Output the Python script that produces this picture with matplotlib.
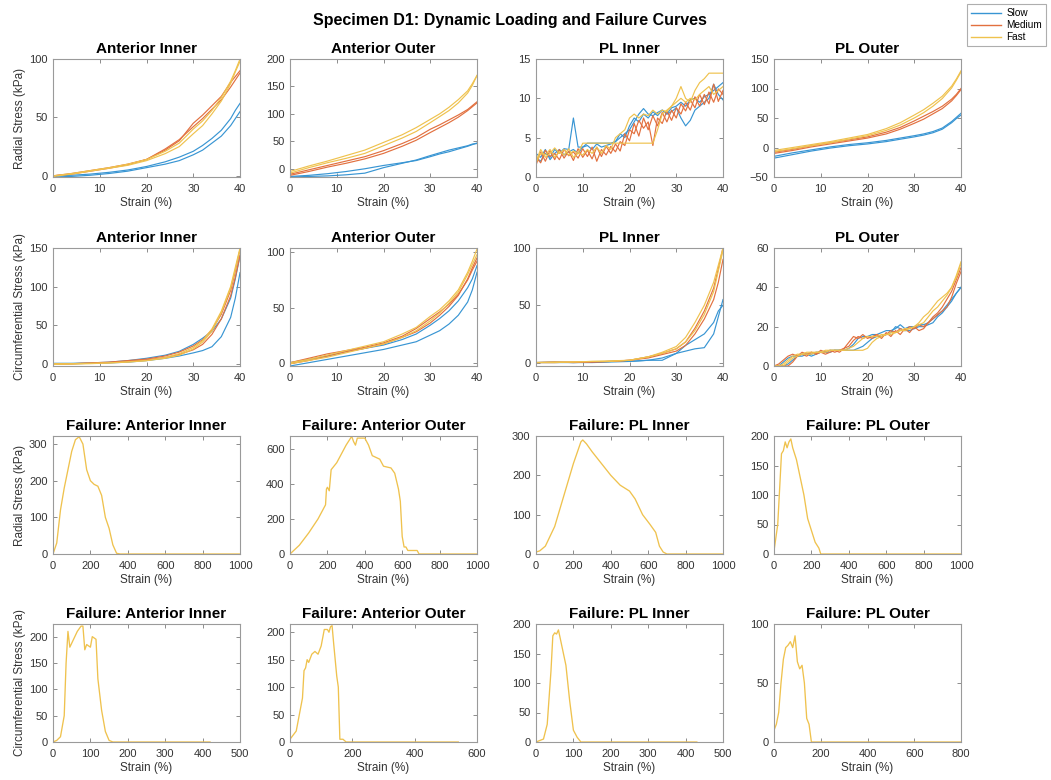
import matplotlib
matplotlib.use("Agg")
import matplotlib.pyplot as plt
from matplotlib.lines import Line2D

plt.rcParams['font.family'] = ['Liberation Sans', 'DejaVu Sans']

# strain grid shared by the smooth loading curves (%)
loading_strain = [0, 4, 8, 12, 16, 20, 24, 27, 30, 32, 34, 36, 38, 39, 40]
# strain grid for the noisy loading curves (%)
noisy_strain = list(range(41))

speeds = ["Slow", "Medium", "Fast"]
speed_colors = ["#3895D3", "#E2703F", "#EFC24E"]

# radial stress, anterior inner (two cycles per speed)
rad_ai_slow = [[0, 0.5, 1.5, 3, 5, 8, 12, 16, 21, 26, 32, 39, 49, 56, 62],
               [-1, -0.5, 0.5, 2, 4, 7, 10, 13, 18, 22, 28, 34, 43, 49, 55]]
rad_ai_med = [[0, 2, 4.5, 7, 10, 14, 22, 30, 45, 52, 60, 68, 80, 85, 90],
              [0, 1.5, 4, 6.5, 9.5, 14, 23, 31, 42, 49, 57, 65, 76, 82, 88]]
rad_ai_fast = [[0, 2, 4.5, 7, 10, 14, 21, 28, 40, 47, 56, 67, 81, 90, 100],
               [-0.5, 1.5, 4, 6.5, 9, 13, 19, 25, 36, 43, 53, 64, 79, 89, 98]]

# radial stress, anterior outer
rad_ao_slow = [[-14, -12, -9, -5, 0, 6, 11, 15, 22, 27, 31, 36, 41, 44, 47],
               [-15, -14, -13, -11, -8, 2, 10, 16, 24, 29, 34, 38, 42, 45, 46]]
rad_ao_med = [[-10, -2, 6, 14, 22, 33, 46, 57, 72, 80, 89, 98, 108, 115, 122],
              [-12, -5, 3, 10, 18, 28, 41, 52, 66, 75, 84, 94, 106, 113, 120]]
rad_ao_fast = [[-5, 5, 14, 24, 34, 48, 62, 75, 90, 100, 112, 126, 142, 155, 170],
               [-8, 2, 11, 19, 28, 42, 56, 68, 84, 95, 106, 120, 138, 152, 170]]

# radial stress, PL inner (noisy, one value per % strain)
rad_pi_slow = [[2.5, 2.0, 3.0, 2.5, 3.5, 3.0, 3.6, 3.5, 7.5, 3.8, 3.8, 4.3, 4.3, 4.3, 4.3, 4.3, 4.3,
                4.5, 5.0, 5.5, 6.0, 7.0, 8.0, 8.7, 8.0, 7.8, 8.2, 8.5, 8.0, 8.3, 8.8, 7.5, 6.5, 7.2,
                8.5, 9.0, 9.5, 10.0, 11.8, 10.5, 9.8],
               [3.0, 2.5, 3.5, 2.2, 3.0, 3.5, 2.8, 3.2, 3.5, 3.0, 3.8, 4.0, 3.5, 4.2, 3.8, 4.0, 4.2,
                4.5, 5.5, 5.0, 6.5, 7.5, 7.0, 8.0, 7.5, 8.3, 7.8, 8.5, 8.0, 8.8, 9.0, 9.5, 9.0, 9.8,
                10.0, 9.5, 10.2, 10.5, 11.0, 11.5, 12.0]]
rad_pi_med = [[1.5, 3.2, 2.0, 3.4, 2.2, 3.5, 2.4, 3.3, 2.1, 3.6, 2.5, 3.4, 2.3, 3.8, 2.6, 3.9, 3.0,
               4.2, 3.3, 5.5, 4.6, 6.8, 5.2, 7.5, 6.0, 7.8, 6.5, 8.2, 7.0, 8.5, 7.5, 9.3, 8.4, 9.8,
               8.8, 10.5, 9.2, 10.8, 9.5, 11.2, 10.5],
              [2.5, 1.8, 3.4, 2.6, 3.0, 2.2, 3.5, 2.7, 3.2, 2.4, 3.6, 2.6, 3.8, 2.0, 3.5, 2.8, 3.9,
               3.2, 4.5, 4.0, 6.0, 5.5, 7.2, 6.2, 7.0, 4.0, 7.5, 6.8, 8.4, 7.2, 8.8, 8.0, 9.5, 8.5,
               10.2, 9.0, 10.5, 9.3, 11.8, 9.6, 11.0]]
rad_pi_fast = [[2.0, 3.5, 2.5, 3.0, 3.7, 3.0, 3.5, 2.8, 3.3, 3.0, 4.3, 4.3, 4.3, 4.3, 4.3, 4.3, 4.3,
                4.3, 4.3, 4.3, 4.3, 4.3, 4.3, 4.3, 4.3, 4.3, 6.0, 8.0, 8.5, 9.0, 10.0, 11.5, 10.0,
                9.5, 11.0, 12.0, 12.5, 13.2, 13.2, 13.2, 13.2],
               [1.8, 3.0, 2.8, 3.5, 2.5, 3.2, 2.8, 3.6, 2.5, 3.0, 2.8, 3.5, 3.0, 3.8, 3.0, 4.0, 3.5,
                5.0, 5.5, 6.0, 7.5, 8.0, 7.5, 8.0, 7.8, 8.5, 8.0, 8.5, 8.3, 9.0, 9.5, 10.0, 9.5,
                10.0, 9.8, 10.5, 11.0, 11.5, 10.5, 11.0, 11.5]]

# radial stress, PL outer
rad_po_slow = [[-15, -9, -4, 1, 5, 8, 12, 16, 20, 23, 27, 33, 44, 51, 58],
               [-18, -12, -6, -1, 3, 6, 10, 14, 18, 21, 25, 31, 42, 49, 55]]
rad_po_med = [[-8, -3, 3, 8, 13, 18, 26, 34, 45, 53, 61, 70, 82, 90, 100],
              [-10, -5, 1, 6, 11, 16, 23, 31, 41, 48, 57, 66, 79, 88, 98]]
rad_po_fast = [[-5, 0, 5, 10, 16, 22, 32, 42, 55, 64, 75, 87, 104, 116, 130],
               [-7, -2, 3, 8, 14, 20, 29, 38, 50, 59, 70, 83, 101, 114, 128]]

# circumferential stress, anterior inner
circ_ai_slow = [[0, 0, 0.5, 1, 2, 4, 7, 10, 14, 17, 22, 35, 60, 85, 118],
                [0.5, 0.5, 1, 2, 4, 7, 11, 16, 25, 33, 42, 58, 85, 110, 140]]
circ_ai_med = [[-1, 0, 0.5, 1.5, 3, 5, 8, 12, 18, 25, 38, 58, 88, 112, 140],
               [0, 0, 1, 2, 4, 6, 10, 15, 23, 31, 44, 64, 95, 120, 148]]
circ_ai_fast = [[0, 0, 0.5, 1, 2.5, 4, 8, 13, 21, 30, 45, 68, 100, 125, 150],
                [-1, -0.5, 0, 1, 2, 4, 7, 11, 19, 28, 42, 66, 98, 122, 148]]

# circumferential stress, anterior outer
circ_ao_slow = [[-3, 0, 3, 6, 9, 12, 16, 19, 25, 29, 35, 43, 55, 66, 82],
                [0, 3, 6, 10, 13, 16, 21, 26, 34, 40, 47, 56, 68, 76, 88]]
circ_ao_med = [[0, 4, 8, 11, 14, 18, 24, 31, 40, 46, 53, 62, 75, 84, 92],
               [-1, 2, 6, 10, 13, 17, 23, 28, 36, 43, 51, 61, 76, 86, 95]]
circ_ao_fast = [[0, 3, 7, 11, 15, 19, 26, 32, 42, 48, 56, 66, 82, 92, 103],
                [-1, 2, 5, 9, 13, 17, 23, 29, 38, 45, 54, 64, 80, 89, 98]]

# circumferential stress, PL inner
circ_pi_slow = [[0, 0, 0, 0, 0.5, 1, 2, 2, 8, 10, 12, 13, 25, 40, 55],
                [0, 0.5, 0, 0.5, 1, 1, 2, 4, 8, 15, 20, 25, 35, 45, 50]]
circ_pi_med = [[0, 0, 0.5, 0.5, 1, 2, 4, 7, 10, 15, 25, 38, 55, 70, 90],
               [0, 0.5, 0, 0.5, 1, 2, 5, 8, 12, 18, 30, 45, 65, 82, 100]]
circ_pi_fast = [[0, 0, 0.5, 1, 1, 2, 5, 9, 14, 22, 35, 50, 70, 85, 100],
                [0, 0.5, 0.5, 1, 1.5, 2, 5, 8, 12, 18, 28, 42, 62, 80, 98]]

# circumferential stress, PL outer (noisy, one value per % strain)
circ_po_slow = [[0, 0, 2, 4, 5, 5, 6, 6, 6, 7, 7, 7, 8, 8, 8, 8, 9, 11, 14, 15, 15, 16, 16, 17,
                 18, 18, 19, 21, 19, 20, 20, 21, 21, 22, 24, 26, 28, 31, 34, 37, 40],
                [0, 0, 0, 1, 3, 5, 5, 6, 5, 6, 7, 7, 7, 8, 8, 8, 8, 8, 9, 10, 12, 14, 15, 15, 16,
                 17, 20, 19, 18, 18, 19, 20, 20, 21, 22, 25, 27, 30, 33, 37, 40]]
circ_po_med = [[0, 1, 3, 5, 6, 5, 7, 6, 7, 6, 8, 7, 8, 7, 8, 9, 12, 15, 14, 16, 14, 15, 16, 14,
                17, 15, 18, 16, 19, 17, 20, 18, 19, 22, 25, 27, 30, 34, 38, 44, 50],
               [0, 0, 0, 0, 2, 5, 6, 5, 7, 6, 7, 6, 7, 8, 7, 9, 10, 13, 15, 14, 15, 14, 16, 15,
                16, 18, 17, 19, 18, 20, 19, 21, 20, 22, 24, 26, 28, 30, 35, 42, 48]]
circ_po_fast = [[0, 0, 1, 3, 5, 6, 6, 7, 7, 7, 7, 7, 8, 8, 8, 8, 9, 10, 12, 14, 15, 15, 15, 16,
                 16, 17, 17, 18, 18, 19, 20, 21, 22, 25, 28, 30, 33, 36, 40, 46, 53],
                [0, 0, 0, 2, 4, 5, 6, 6, 6, 7, 7, 8, 8, 8, 8, 8, 8, 8, 8, 8, 9, 12, 14, 15, 16,
                 16, 17, 18, 19, 19, 20, 22, 25, 27, 30, 33, 35, 37, 40, 45, 52]]

# failure tests: radial
fail_rad_ai_x = [0, 20, 40, 60, 80, 100, 120, 140, 160, 180, 200, 220, 240, 260, 280, 300, 320, 340, 360, 1000]
fail_rad_ai_y = [0, 30, 120, 180, 230, 280, 312, 320, 300, 230, 200, 190, 185, 160, 100, 70, 25, 2, 0, 0]
fail_rad_ao_x = [0, 50, 100, 150, 190, 195, 200, 210, 220, 250, 300, 330, 340, 350, 360, 400, 420, 440,
                 480, 500, 540, 560, 580, 590, 600, 610, 620, 630, 680, 690, 1000]
fail_rad_ao_y = [0, 50, 120, 200, 280, 370, 380, 360, 480, 520, 620, 670, 640, 620, 660, 660, 620, 560,
                 540, 500, 490, 460, 370, 300, 100, 40, 40, 20, 20, 0, 0]
fail_rad_pi_x = [0, 20, 50, 100, 150, 200, 240, 250, 270, 300, 350, 400, 450, 500, 530, 570, 610, 640,
                 660, 680, 700, 1000]
fail_rad_pi_y = [5, 8, 20, 70, 150, 230, 285, 290, 280, 260, 230, 200, 175, 160, 140, 100, 75, 55, 20, 5, 0, 0]
fail_rad_po_x = [0, 20, 40, 50, 60, 70, 80, 90, 100, 120, 140, 160, 180, 200, 220, 240, 250, 1000]
fail_rad_po_y = [5, 50, 170, 175, 190, 180, 190, 195, 180, 160, 130, 100, 60, 40, 20, 10, 0, 0]

# failure tests: circumferential
fail_circ_ai_x = [0, 10, 20, 30, 35, 40, 45, 55, 65, 75, 80, 85, 90, 100, 105, 115, 120, 130, 140, 150, 160, 420]
fail_circ_ai_y = [0, 3, 10, 50, 150, 210, 180, 195, 210, 220, 220, 175, 185, 180, 200, 195, 120, 60, 20, 3, 0, 0]
fail_circ_ao_x = [0, 20, 40, 45, 50, 55, 60, 70, 80, 90, 100, 110, 120, 125, 130, 135, 140, 150, 155, 160,
                  170, 180, 540]
fail_circ_ao_y = [5, 20, 80, 130, 135, 150, 145, 160, 165, 160, 175, 205, 205, 200, 210, 212, 180, 120, 100,
                  5, 5, 0, 0]
fail_circ_pi_x = [0, 20, 30, 40, 45, 50, 55, 60, 70, 80, 90, 100, 110, 120, 430]
fail_circ_pi_y = [0, 5, 30, 120, 180, 185, 183, 190, 160, 130, 70, 20, 8, 0, 0]
fail_circ_po_x = [0, 10, 20, 30, 40, 50, 60, 70, 80, 90, 100, 110, 120, 130, 140, 150, 160, 800]
fail_circ_po_y = [10, 15, 25, 50, 70, 80, 82, 85, 80, 90, 68, 62, 65, 50, 20, 15, 0, 0]

region_titles = ["Anterior Inner", "Anterior Outer", "PL Inner", "PL Outer"]

loading_rows = [
    [(loading_strain, rad_ai_slow, rad_ai_med, rad_ai_fast),
     (loading_strain, rad_ao_slow, rad_ao_med, rad_ao_fast),
     (noisy_strain, rad_pi_slow, rad_pi_med, rad_pi_fast),
     (loading_strain, rad_po_slow, rad_po_med, rad_po_fast)],
    [(loading_strain, circ_ai_slow, circ_ai_med, circ_ai_fast),
     (loading_strain, circ_ao_slow, circ_ao_med, circ_ao_fast),
     (loading_strain, circ_pi_slow, circ_pi_med, circ_pi_fast),
     (noisy_strain, circ_po_slow, circ_po_med, circ_po_fast)],
]
failure_rows = [
    [(fail_rad_ai_x, fail_rad_ai_y), (fail_rad_ao_x, fail_rad_ao_y),
     (fail_rad_pi_x, fail_rad_pi_y), (fail_rad_po_x, fail_rad_po_y)],
    [(fail_circ_ai_x, fail_circ_ai_y), (fail_circ_ao_x, fail_circ_ao_y),
     (fail_circ_pi_x, fail_circ_pi_y), (fail_circ_po_x, fail_circ_po_y)],
]

# axis limits and ticks per panel, row by row
ylims = [[(-1, 100), (-15, 200), (0, 15), (-50, 150)],
         [(-3, 150), (-3, 104), (-3, 100), (0, 60)],
         [(0, 322), (0, 672), (0, 298), (0, 200)],
         [(0, 224), (0, 215), (0, 200), (0, 100)]]
yticks = [[[0, 50, 100], range(0, 201, 50), [0, 5, 10, 15], range(-50, 151, 50)],
          [range(0, 151, 50), [0, 50, 100], [0, 50, 100], range(0, 61, 20)],
          [range(0, 301, 100), range(0, 601, 200), range(0, 301, 100), range(0, 201, 50)],
          [range(0, 201, 50), range(0, 201, 50), range(0, 201, 50), [0, 50, 100]]]
fail_xlims = [[1000, 1000, 1000, 1000], [500, 600, 500, 800]]
fail_xsteps = [[200, 200, 200, 200], [100, 200, 100, 200]]
ylabels = ["Radial Stress (kPa)", "Circumferential Stress (kPa)",
           "Radial Stress (kPa)", "Circumferential Stress (kPa)"]

W, H = 1051, 780
fig = plt.figure(figsize=(W / 100, H / 100), dpi=100)

col_left = [53, 290, 536, 774]
row_top = [59, 248, 436, 624]
aw, ah = 187, 118


def style(ax):
    for s in ax.spines.values():
        s.set_color("#9a9a9a")
        s.set_linewidth(0.8)
    ax.tick_params(direction="in", top=True, right=True, length=3, width=0.6,
                   color="#7a7a7a", labelsize=8, labelcolor="#333333")
    ax.tick_params(axis="x", pad=5)
    ax.tick_params(axis="y", pad=4)
    ax.set_xlabel("Strain (%)", fontsize=8.5, color="#333333", labelpad=2)


for r in range(4):
    for c in range(4):
        ax = fig.add_axes([col_left[c] / W, 1 - (row_top[r] + ah) / H, aw / W, ah / H])
        style(ax)
        if r < 2:
            strain, slow, med, fast = loading_rows[r][c]
            for runs, col in zip([slow, med, fast], speed_colors):
                for y in runs:
                    ax.plot(strain, y, color=col, lw=0.85)
            ax.set_xlim(0, 40)
            ax.set_xticks(range(0, 41, 10))
            ax.set_title(region_titles[c], fontsize=11, fontweight="bold", pad=4)
        else:
            fx, fy = failure_rows[r - 2][c]
            ax.plot(fx, fy, color=speed_colors[2], lw=0.95)
            ax.set_xlim(0, fail_xlims[r - 2][c])
            ax.set_xticks(range(0, fail_xlims[r - 2][c] + 1, fail_xsteps[r - 2][c]))
            ax.set_title("Failure: " + region_titles[c], fontsize=11, fontweight="bold", pad=4)
        ax.set_ylim(*ylims[r][c])
        ax.set_yticks(list(yticks[r][c]))
        if c == 0:
            ax.set_ylabel(ylabels[r], fontsize=8.5, color="#333333", labelpad=2)

fig.text(510 / W, 1 - 20 / H, "Specimen D1: Dynamic Loading and Failure Curves",
         ha="center", va="center", fontsize=11.5, fontweight="bold")

handles = [Line2D([], [], color=col, lw=1) for col in speed_colors]
leg = fig.legend(handles, speeds, loc="upper right", bbox_to_anchor=(1046 / W, 1 - 4 / H),
                 fontsize=7.2, frameon=True, fancybox=False, handlelength=3.0,
                 borderpad=0.4, labelspacing=0.2, handletextpad=0.5, borderaxespad=0)
leg.get_frame().set_edgecolor("#9a9a9a")
leg.get_frame().set_linewidth(0.8)

fig.savefig("out.png", dpi=100)
